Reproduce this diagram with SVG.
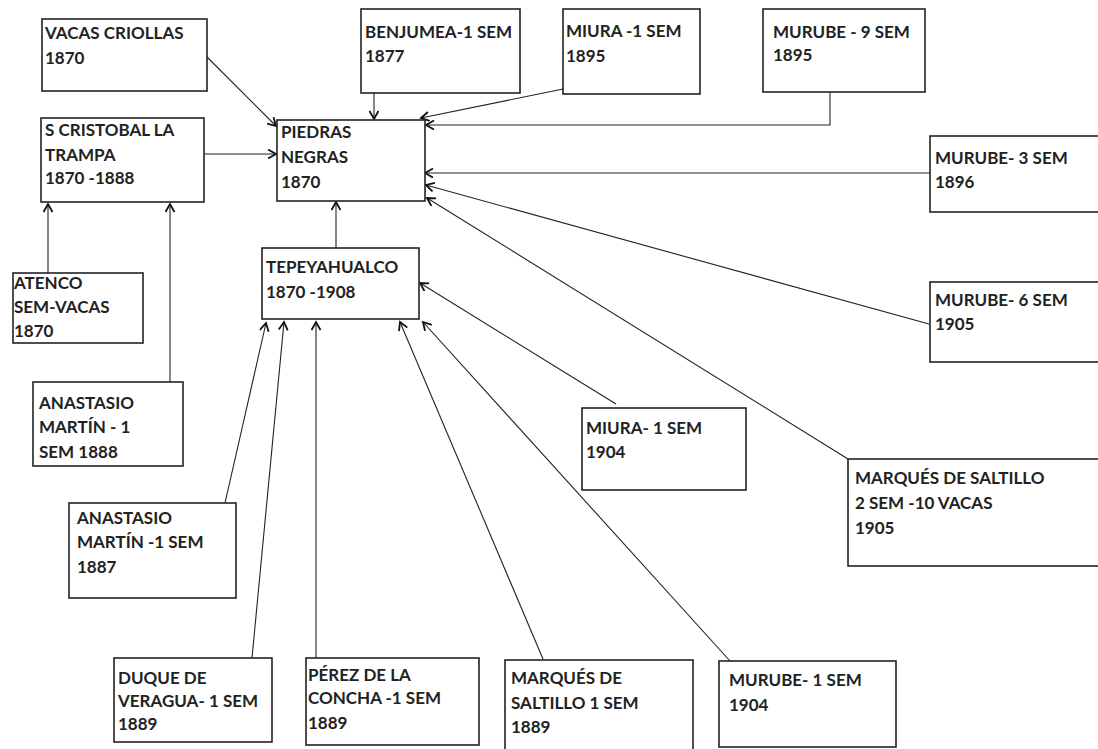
<svg xmlns="http://www.w3.org/2000/svg" width="1098" height="749" viewBox="0 0 1098 749">
<style>
.b{fill:#fff;stroke:#222;stroke-width:1.6}
.t{font-family:Lato,"Open Sans",sans-serif;font-weight:bold;font-size:17px;fill:#222}
.c{stroke:#222;stroke-width:1.1;fill:none;marker-end:url(#a)}
</style>
<defs>
<marker id="a" markerWidth="12" markerHeight="12" refX="9" refY="5" orient="auto" markerUnits="userSpaceOnUse">
<path d="M1,0.5 L9,5 L1,9.5" fill="none" stroke="#111" stroke-width="1.8"/>
</marker>
</defs>
<rect width="1098" height="749" fill="#fff"/>
<g id="connectors">
<line class="c" x1="207" y1="57" x2="276" y2="126"/>
<line class="c" x1="204" y1="154" x2="276" y2="154"/>
<line class="c" x1="374" y1="93" x2="374" y2="119"/>
<line class="c" x1="563" y1="89" x2="421" y2="118"/>
<polyline class="c" points="830,92 830,125 426,125"/>
<line class="c" x1="930" y1="173" x2="425" y2="173"/>
<line class="c" x1="929" y1="324" x2="426" y2="185"/>
<line class="c" x1="848" y1="459" x2="427" y2="198"/>
<line class="c" x1="336" y1="248" x2="336" y2="202"/>
<line class="c" x1="48" y1="273" x2="48" y2="204"/>
<line class="c" x1="170" y1="382" x2="170" y2="204"/>
<line class="c" x1="616" y1="404" x2="420" y2="283"/>
<line class="c" x1="730" y1="661" x2="423" y2="322"/>
<line class="c" x1="543" y1="659" x2="400" y2="322"/>
<line class="c" x1="316" y1="658" x2="316" y2="322"/>
<line class="c" x1="252" y1="658" x2="284" y2="322"/>
<line class="c" x1="225" y1="503" x2="266" y2="323"/>
</g>
<g id="vacas-criollas"><rect class="b" x="42" y="19" width="165" height="72"/><text class="t" x="45" y="39">VACAS CRIOLLAS</text><text class="t" x="45" y="64">1870</text></g>
<g id="s-cristobal"><rect class="b" x="41" y="118" width="163" height="84"/><text class="t" x="45" y="136">S CRISTOBAL LA</text><text class="t" x="45" y="161">TRAMPA</text><text class="t" x="45" y="184">1870 -1888</text></g>
<g id="piedras-negras"><rect class="b" x="277" y="120" width="148" height="81"/><text class="t" x="281" y="138">PIEDRAS</text><text class="t" x="281" y="163">NEGRAS</text><text class="t" x="281" y="188">1870</text></g>
<g id="benjumea"><rect class="b" x="361" y="9" width="159" height="84"/><text class="t" x="365" y="38">BENJUMEA-1 SEM</text><text class="t" x="365" y="62">1877</text></g>
<g id="miura-1895"><rect class="b" x="563" y="9" width="137" height="85"/><text class="t" x="566" y="37">MIURA -1 SEM</text><text class="t" x="566" y="62">1895</text></g>
<g id="murube-9"><rect class="b" x="763" y="9" width="162" height="83"/><text class="t" x="773" y="38">MURUBE - 9 SEM</text><text class="t" x="773" y="61">1895</text></g>
<g id="murube-3"><rect class="b" x="930" y="136" width="170" height="76"/><text class="t" x="935" y="164">MURUBE- 3 SEM</text><text class="t" x="935" y="188">1896</text></g>
<g id="murube-6"><rect class="b" x="930" y="282" width="170" height="80"/><text class="t" x="935" y="306">MURUBE- 6 SEM</text><text class="t" x="935" y="330">1905</text></g>
<g id="tepeyahualco"><rect class="b" x="262" y="248" width="157" height="71"/><text class="t" x="266" y="273">TEPEYAHUALCO</text><text class="t" x="266" y="298">1870 -1908</text></g>
<g id="atenco"><rect class="b" x="13" y="273" width="130" height="70"/><text class="t" x="14" y="289">ATENCO</text><text class="t" x="14" y="313">SEM-VACAS</text><text class="t" x="14" y="337">1870</text></g>
<g id="anastasio-1888"><rect class="b" x="33" y="382" width="150" height="84"/><text class="t" x="39" y="409">ANASTASIO</text><text class="t" x="39" y="433">MARTÍN - 1</text><text class="t" x="39" y="458">SEM  1888</text></g>
<g id="miura-1904"><rect class="b" x="582" y="408" width="164" height="82"/><text class="t" x="586" y="434">MIURA- 1 SEM</text><text class="t" x="586" y="458">1904</text></g>
<g id="saltillo-2"><rect class="b" x="848" y="459" width="252" height="107"/><text class="t" x="855" y="484">MARQUÉS DE SALTILLO</text><text class="t" x="855" y="509">2 SEM -10 VACAS</text><text class="t" x="855" y="534">1905</text></g>
<g id="anastasio-1887"><rect class="b" x="69" y="503" width="167" height="95"/><text class="t" x="77" y="524">ANASTASIO</text><text class="t" x="77" y="548">MARTÍN -1 SEM</text><text class="t" x="77" y="573">1887</text></g>
<g id="duque-veragua"><rect class="b" x="114" y="658" width="158" height="84"/><text class="t" x="118" y="684">DUQUE DE</text><text class="t" x="118" y="707">VERAGUA- 1 SEM</text><text class="t" x="118" y="730">1889</text></g>
<g id="perez-concha"><rect class="b" x="306" y="658" width="173" height="87"/><text class="t" x="308" y="681">PÉREZ DE LA</text><text class="t" x="308" y="704">CONCHA -1 SEM</text><text class="t" x="308" y="729">1889</text></g>
<g id="saltillo-1"><rect class="b" x="505" y="660" width="188" height="95"/><text class="t" x="511" y="684">MARQUÉS DE</text><text class="t" x="511" y="709">SALTILLO 1 SEM</text><text class="t" x="511" y="733">1889</text></g>
<g id="murube-1"><rect class="b" x="719" y="661" width="177" height="86"/><text class="t" x="729" y="686">MURUBE- 1 SEM</text><text class="t" x="729" y="711">1904</text></g>
</svg>
